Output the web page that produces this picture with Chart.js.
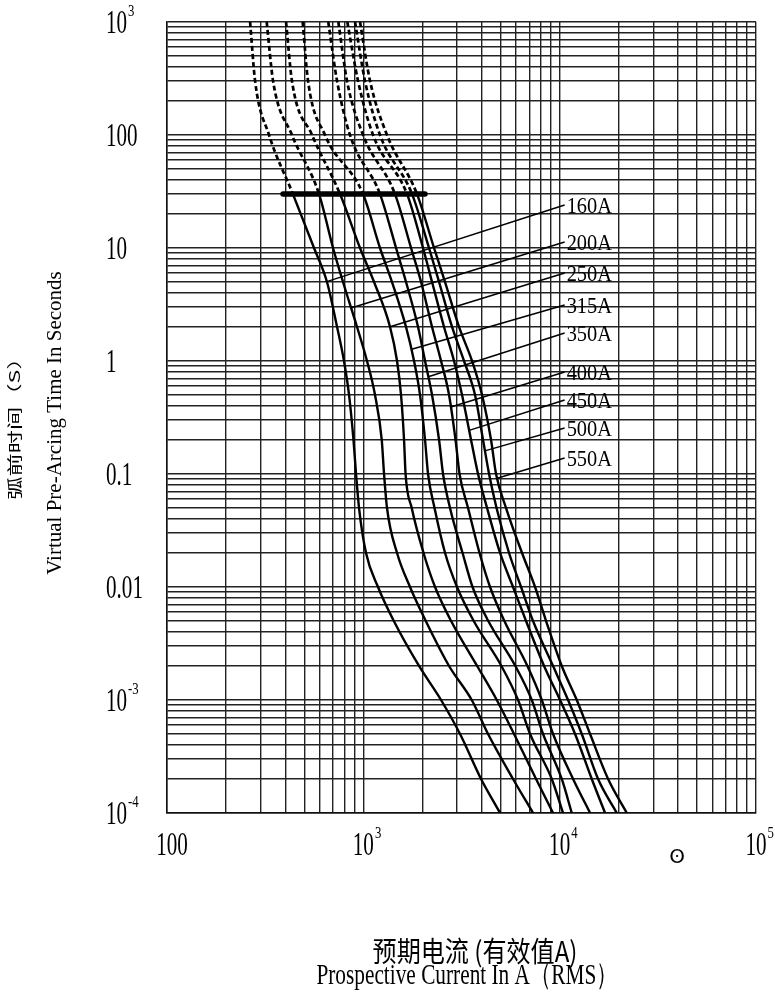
<!DOCTYPE html>
<html>
<head>
<meta charset="utf-8">
<script src="https://cdn.jsdelivr.net/npm/chart.js@4.4.1/dist/chart.umd.min.js"></script>
<style>
html,body{margin:0;padding:0;background:#fff;}
#wrap{width:775px;height:1000px;position:relative;}
</style>
</head>
<body>
<div id="wrap"><canvas id="c"></canvas></div>
<script>
// ---------------- data ----------------
const xMin = 100, xMax = 100000;
const yMin = 0.0001, yMax = 1000;
const xTickValues = [100, 1000, 10000, 100000];
const xTickLabels = ['100', '10^3', '10^4', '10^5'];
const yTickValues = [1000, 100, 10, 1, 0.1, 0.01, 0.001, 0.0001];
const yTickLabels = ['10^3', '100', '10', '1', '0.1', '0.01', '10^-3', '10^-4'];

const ratings = ['160A', '200A', '250A', '315A', '350A', '400A', '450A', '500A', '550A'];

// pre-arcing time (s) at which the currents below are read
const times = [1000, 300, 100, 30, 10, 5, 2, 1, 0.5, 0.2, 0.1, 0.05, 0.02, 0.01, 0.005, 0.002, 0.001, 0.0005, 0.0002, 0.0001];
const dashAbove = 30; // curve is dashed above this time

const current160 = [265, 281, 331, 438, 561, 653, 735, 797, 846, 891, 918, 951, 1032, 1188, 1430, 1922, 2488, 3109, 3978, 4971];
const current200 = [322, 347, 433, 595, 701, 788, 929, 1044, 1147, 1241, 1275, 1320, 1485, 1729, 2080, 2733, 3566, 4318, 5788, 7319];
const current250 = [404, 433, 548, 761, 962, 1134, 1368, 1485, 1556, 1612, 1641, 1764, 2026, 2319, 2800, 3800, 4782, 5857, 7582, 9256];
const current315 = [491, 523, 638, 997, 1216, 1400, 1650, 1813, 1945, 2062, 2136, 2305, 2608, 3001, 3650, 5050, 6139, 7068, 9116, 10407];
const current350 = [663, 735, 855, 1216, 1468, 1650, 1900, 2062, 2239, 2431, 2547, 2764, 3202, 3600, 4330, 5950, 7210, 8231, 10249, 11525];
const current400 = [746, 826, 997, 1450, 1750, 1968, 2239, 2488, 2733, 2949, 3091, 3415, 3908, 4420, 5230, 6850, 8106, 9256, 11703, 14288];
const current450 = [829, 940, 1121, 1670, 2014, 2239, 2577, 2897, 3183, 3538, 3840, 4268, 4971, 5788, 6743, 8328, 10046, 11981, 14573, 17034];
const current500 = [907, 1020, 1216, 1771, 2161, 2431, 2831, 3258, 3707, 4072, 4370, 4770, 5524, 6360, 7319, 9256, 11036, 12961, 15690, 19541];
const current550 = [962, 1082, 1320, 1877, 2292, 2608, 3073, 3579, 4024, 4472, 4742, 5333, 6433, 7494, 8527, 10249, 12221, 14288, 17649, 21972];

// thick reference bar at 30 s
const barCurrents = [390, 2060];
const barTime = 30;

// leader lines: from a point on each curve to the label
const leaderFromI = [651, 873, 1368, 1764, 2143, 2818, 3427, 4200, 4850];
const leaderFromT = [5.04, 2.96, 2.01, 1.27, 0.726, 0.394, 0.242, 0.161, 0.092];
const labelI = 10600;
const labelT = [24, 11.3, 6.0, 3.13, 1.77, 0.80, 0.452, 0.255, 0.1385];

const xTitleCN = '预期电流 (有效值A)';
const xTitleEN = 'Prospective Current In A（RMS）';
const yTitleCN = '弧前时间（S）';
const yTitleEN = 'Virtual Pre-Arcing Time In Seconds';
const markSymbol = 'ʘ';

// ---------------- chart ----------------
const series = [current160, current200, current250, current315, current350, current400, current450, current500, current550];
const SERIF = '"Liberation Serif", "Times New Roman", serif';
const CJK = '"Noto Sans CJK SC", "Noto Sans", sans-serif';

function logGrid(min, max) {
  const v = [];
  const e0 = Math.round(Math.log10(min)), e1 = Math.round(Math.log10(max));
  for (let e = e0; e < e1; e++) {
    for (let m = 1; m < 10; m++) v.push(parseFloat((m * Math.pow(10, e)).toPrecision(4)));
  }
  v.push(max);
  return v;
}

const datasets = [];
series.forEach((arr, k) => {
  datasets.push({
    label: ratings[k],
    data: times.map((t, i) => ({x: arr[i], y: t})),
    borderColor: '#000',
    borderWidth: 2.4,
    pointRadius: 0,
    cubicInterpolationMode: 'monotone',
    fill: false,
    segment: {
      borderDash: c => (c.p1.parsed.y >= dashAbove - 1e-9 ? [5, 3] : undefined),
      borderWidth: c => (c.p1.parsed.y >= dashAbove - 1e-9 ? 2.7 : 2.4)
    }
  });
});
datasets.push({
  label: 'bar',
  data: barCurrents.map(x => ({x, y: barTime})),
  borderColor: '#000', borderWidth: 5.5, pointRadius: 0, borderCapStyle: 'round', tension: 0
});
ratings.forEach((r, k) => {
  datasets.push({
    label: 'leader ' + r,
    data: [{x: leaderFromI[k], y: leaderFromT[k]}, {x: labelI, y: labelT[k]}],
    borderColor: '#000', borderWidth: 1.5, pointRadius: 0, tension: 0
  });
});

function drawText(ctx, text, x, y, font, sx, align) {
  ctx.save();
  ctx.translate(x, y);
  ctx.scale(sx, 1);
  ctx.font = font;
  ctx.textAlign = align;
  ctx.textBaseline = 'middle';
  ctx.fillText(text, 0, 0);
  ctx.restore();
}

function drawTick(ctx, label, x, y, align) {
  const parts = label.split('^');
  const base = parts[0], sup = parts[1];
  const bFont = '33px ' + SERIF, sFont = '17px ' + SERIF;
  const bsx = 0.64, ssx = 0.75;
  ctx.save();
  ctx.font = bFont;
  const bw = ctx.measureText(base).width * bsx;
  ctx.restore();
  let left = align === 'center' ? x - bw / 2 : x;
  drawText(ctx, base, left, y, bFont, bsx, 'left');
  if (sup) drawText(ctx, sup, left + bw + 1, y - 12, sFont, ssx, 'left');
}

const textPlugin = {
  id: 'texts',
  afterDraw(chart) {
    const ctx = chart.ctx, xs = chart.scales.x, ys = chart.scales.y;
    ctx.save();
    ctx.fillStyle = '#000';
    yTickValues.forEach((v, i) => drawTick(ctx, yTickLabels[i], 106, ys.getPixelForValue(v) + 2, 'left'));
    xTickValues.forEach((v, i) => drawTick(ctx, xTickLabels[i], xs.getPixelForValue(v) + (i === 0 ? 5 : 0), 846, 'center'));
    ratings.forEach((r, k) => drawText(ctx, r, xs.getPixelForValue(labelI) + 2, ys.getPixelForValue(labelT[k]) + 2, '24px ' + SERIF, 0.85, 'left'));
    drawText(ctx, markSymbol, 677, 858, '20px "DejaVu Sans"', 1, 'center');
    drawText(ctx, xTitleCN, 475, 951, '28px ' + CJK, 0.86, 'center');
    drawText(ctx, xTitleEN, 467, 976, '30px ' + SERIF, 0.71, 'center');
    ctx.save();
    ctx.translate(55, 423);
    ctx.rotate(-Math.PI / 2);
    drawText(ctx, yTitleEN, 0, 0, '21px ' + SERIF, 1, 'center');
    ctx.restore();
    ctx.save();
    ctx.translate(14, 423);
    ctx.rotate(-Math.PI / 2);
    drawText(ctx, yTitleCN, 0, 0, '15px ' + CJK, 1.55, 'center');
    ctx.restore();
    ctx.restore();
  }
};

const gridOpts = {color: '#222', lineWidth: 1.4, drawTicks: false, tickLength: 0};

new Chart(document.getElementById('c'), {
  type: 'line',
  data: {datasets},
  options: {
    responsive: true,
    maintainAspectRatio: false,
    animation: false,
    layout: {padding: {left: 167, top: 22, right: 19, bottom: 187}},
    plugins: {legend: {display: false}, tooltip: {enabled: false}, title: {display: false}},
    scales: {
      x: {
        type: 'logarithmic', min: xMin, max: xMax,
        afterBuildTicks: ax => { ax.ticks = logGrid(xMin, xMax).map(v => ({value: v})); },
        ticks: {display: false},
        grid: gridOpts,
        border: {display: true, color: '#111', width: 1.5}
      },
      y: {
        type: 'logarithmic', min: yMin, max: yMax,
        afterBuildTicks: ax => { ax.ticks = logGrid(yMin, yMax).map(v => ({value: v})); },
        ticks: {display: false},
        grid: gridOpts,
        border: {display: true, color: '#111', width: 1.5}
      }
    }
  },
  plugins: [textPlugin]
});
</script>
</body>
</html>
